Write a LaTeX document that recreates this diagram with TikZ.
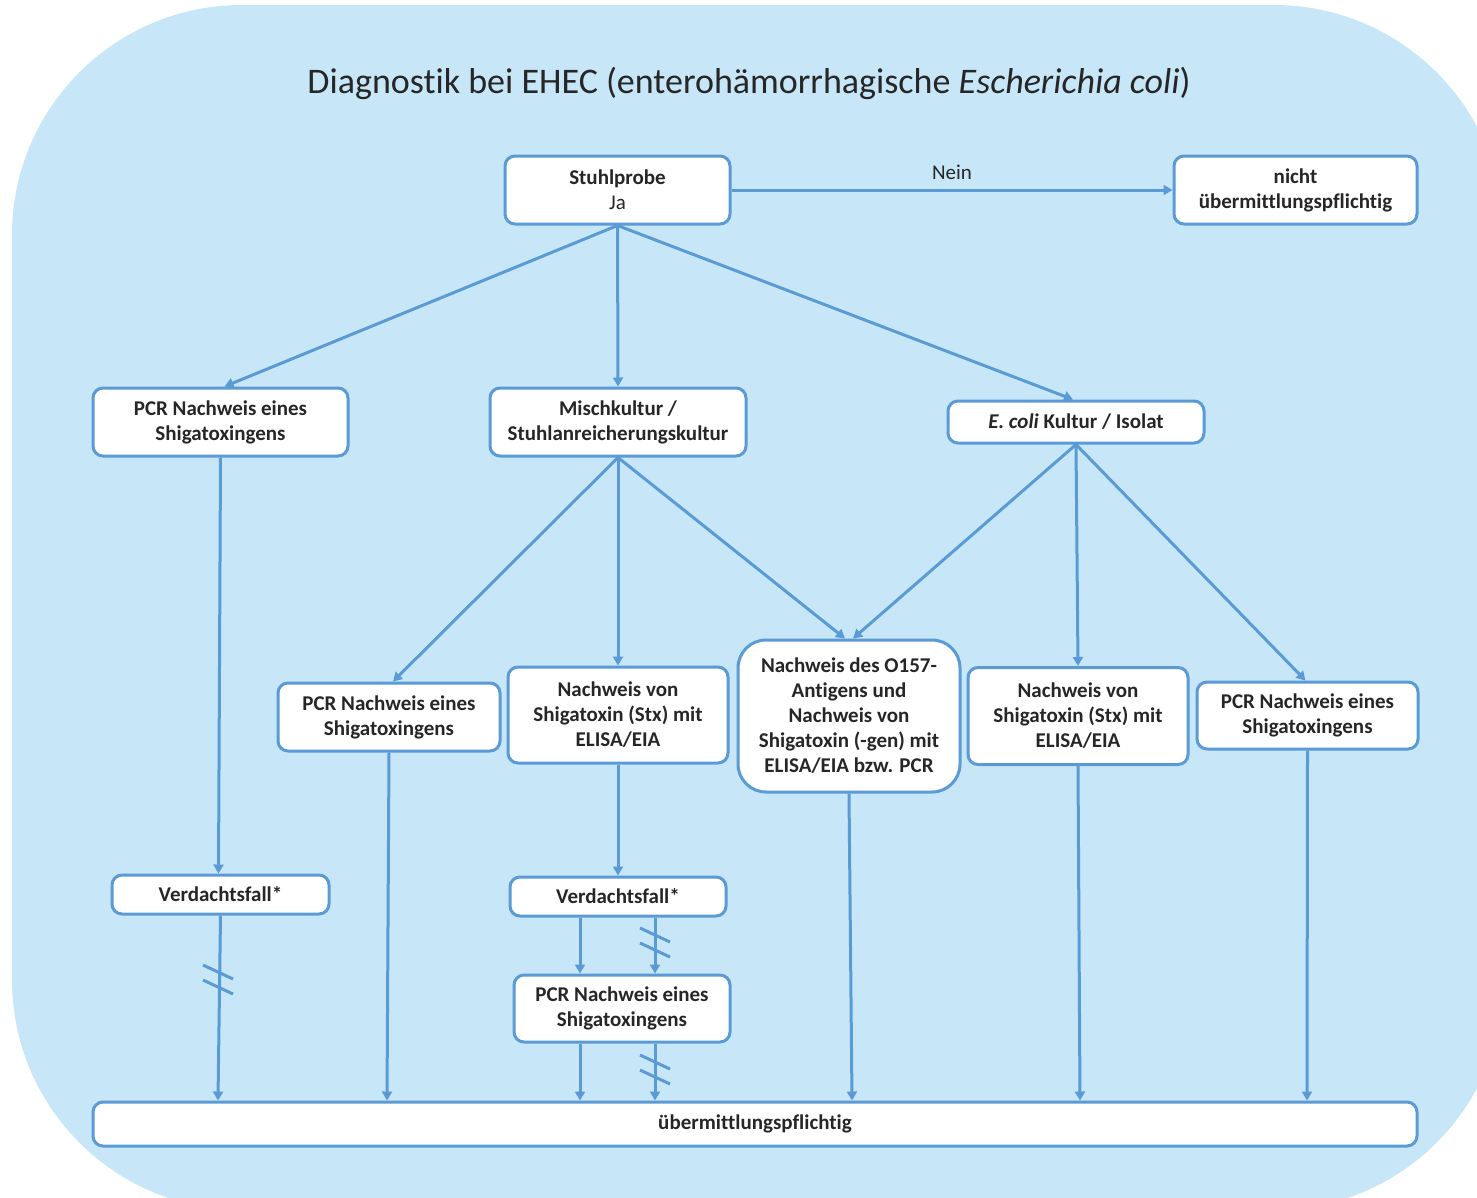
\documentclass[tikz,border=0pt]{standalone}
\usepackage{fontspec}
\setmainfont{Carlito}[Ligatures=NoCommon]
\usetikzlibrary{arrows.meta}
\definecolor{ehecblue}{RGB}{91,155,213}
\definecolor{ehecbg}{RGB}{199,230,248}
\definecolor{ehectext}{RGB}{38,38,38}

\begin{document}
\begin{tikzpicture}[x=1pt, y=-1pt,
	box/.style={draw=ehecblue, line width=3pt, fill=white, rounded corners=10pt, align=center, inner sep=0pt, text=ehectext, font=\fontsize{21}{25}\selectfont\bfseries},
	arr/.style={draw=ehecblue, line width=3pt, -{Triangle[length=9pt,width=10pt]}},
	brk/.style={draw=ehecblue, line width=3pt}]
	\useasboundingbox (0,0) rectangle (1477,1197);
	\begin{scope}
		\clip (0,0) rectangle (1477,1197);
		\fill[ehecbg, rounded corners=230pt] (12,5) rectangle (1504,1210);
	\end{scope}
	\node[text=ehectext, font=\fontsize{36}{42}\selectfont] (title) at (749,83) {Diagnostik bei EHEC (enterohämorrhagische \textit{Escherichia coli})};

	\node[box, minimum width=225pt, minimum height=68pt] (stuhl) at (617.5,190) {Stuhlprobe\\{\mdseries Ja}};
	\node[box, minimum width=243pt, minimum height=68pt] (nicht) at (1295.5,190) {nicht\\übermittlungspflichtig};
	\node[box, minimum width=255pt, minimum height=68pt] (pcrA) at (220.5,422) {PCR Nachweis eines\\Shigatoxingens};
	\node[box, minimum width=256pt, minimum height=68pt] (misch) at (618,422) {Mischkultur /\\Stuhlanreicherungskultur};
	\node[box, minimum width=256pt, minimum height=42pt] (ecoli) at (1076,422) {\textit{E. coli} Kultur / Isolat};
	\node[box, minimum width=222pt, minimum height=68pt] (pcrB) at (389,717) {PCR Nachweis eines\\Shigatoxingens};
	\node[box, minimum width=220pt, minimum height=96pt] (stxA) at (618,715) {Nachweis von\\Shigatoxin (Stx) mit\\ELISA/EIA};
	\node[box, rounded corners=28pt, minimum width=222pt, minimum height=152pt] (oagen) at (849,716) {Nachweis des O157-\\Antigens und\\Nachweis von\\Shigatoxin (-gen) mit\\ELISA/EIA bzw. PCR};
	\node[box, minimum width=220pt, minimum height=97pt] (stxB) at (1078,716) {Nachweis von\\Shigatoxin (Stx) mit\\ELISA/EIA};
	\node[box, minimum width=221pt, minimum height=67pt] (pcrD) at (1307.5,715.5) {PCR Nachweis eines\\Shigatoxingens};
	\node[box, minimum width=217pt, minimum height=39pt] (vdA) at (220.5,894.5) {Verdachtsfall*};
	\node[box, minimum width=216pt, minimum height=39pt] (vdB) at (618,896.5) {Verdachtsfall*};
	\node[box, minimum width=216pt, minimum height=67pt] (pcrC) at (622,1008.5) {PCR Nachweis eines\\Shigatoxingens};
	\node[box, minimum width=1324pt, minimum height=44pt] (meld) at (755,1124) {übermittlungspflichtig};

	\draw[arr] (stuhl.east) -- node[above=6pt, text=ehectext, font=\fontsize{21}{25}\selectfont] (nein) {Nein} (nicht.west);
	\draw[arr] (stuhl.south) -- ([xshift=4pt]pcrA.north);
	\draw[arr] (stuhl.south) -- (misch.north);
	\draw[arr] (stuhl.south) -- ([xshift=-3pt]ecoli.north);
	\draw[arr] (pcrA.south) -- ([xshift=-2pt]vdA.north);
	\draw[arr] (misch.south) -- ([xshift=4pt]pcrB.north);
	\draw[arr] (misch.south) -- (stxA.north);
	\draw[arr] (misch.south) -- ([xshift=-4pt]oagen.north);
	\draw[arr] (ecoli.south) -- ([xshift=4pt]oagen.north);
	\draw[arr] (ecoli.south) -- (stxB.north);
	\draw[arr] (ecoli.south) -- ([xshift=-2pt]pcrD.north);
	\draw[arr] (stxA.south) -- (vdB.north);
	\draw[arr] ([xshift=-38pt]vdB.south) -- ([xshift=-42pt]pcrC.north);
	\draw[arr] ([xshift=37pt]vdB.south) -- ([xshift=33pt]pcrC.north);
	\draw[arr] ([xshift=-42pt]pcrC.south) -- ([xshift=-175pt]meld.north);
	\draw[arr] ([xshift=33pt]pcrC.south) -- ([xshift=-100pt]meld.north);
	\draw[arr] (vdA.south) -- ([xshift=-537pt]meld.north);
	\draw[arr] (pcrB.south) -- ([xshift=-368pt]meld.north);
	\draw[arr] (oagen.south) -- ([xshift=97pt]meld.north);
	\draw[arr] (stxB.south) -- ([xshift=325pt]meld.north);
	\draw[arr] (pcrD.south) -- ([xshift=552pt]meld.north);

	\coordinate (brkA) at (218,972);
	\coordinate (brkB) at (655,935);
	\coordinate (brkC) at (655,1062);
	\foreach \b in {brkA,brkB,brkC} {
		\draw[brk] ([shift={(-15,-7)}]\b) -- ([shift={(15,7)}]\b);
		\draw[brk] ([shift={(-15,8)}]\b) -- ([shift={(15,22)}]\b);
	}
\end{tikzpicture}
\end{document}
